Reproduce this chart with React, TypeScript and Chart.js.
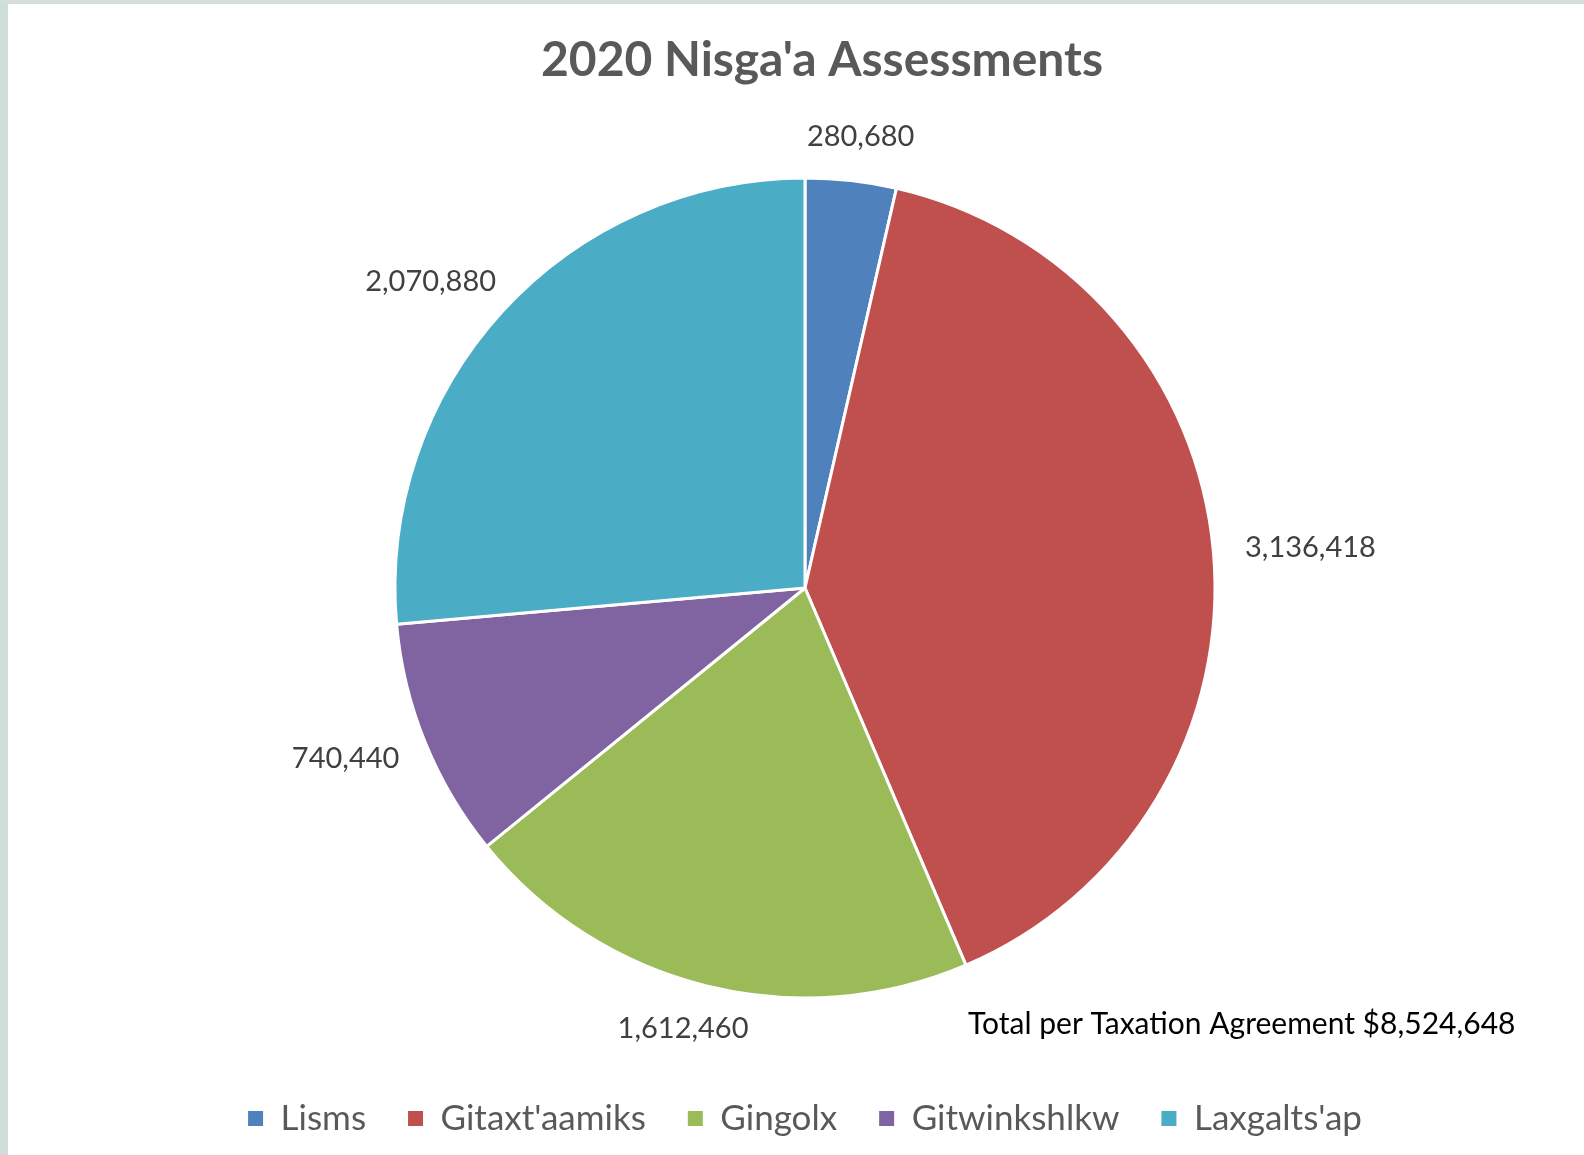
import React, { useEffect, useRef } from "react";
import { Chart, registerables } from "chart.js";

Chart.register(...registerables);

const categories = ["Lisms", "Gitaxt'aamiks", "Gingolx", "Gitwinkshlkw", "Laxgalts'ap"];
const assessments = [280680, 3136418, 1612460, 740440, 2070880];
const sliceColors = ["#4F81BD", "#C0504D", "#9BBB59", "#8064A2", "#4BACC6"];
const chartTitle = "2020 Nisga'a Assessments";
const totalNote = "Total per Taxation Agreement $8,524,648";

const FONT = 'Lato, "Open Sans", sans-serif';

const CANVAS_W = 1576;
const CANVAS_H = 1142;

const overlayPlugin = {
  id: "overlayText",
  afterDatasetsDraw(chart: any) {
    const ctx = chart.ctx;
    const meta = chart.getDatasetMeta(0);
    const values = chart.data.datasets[0].data as number[];
    ctx.save();
    // data labels outside the end of each slice
    ctx.font = `29px ${FONT}`;
    ctx.fillStyle = "#404040";
    ctx.textAlign = "center";
    ctx.textBaseline = "middle";
    const gap = 32;
    meta.data.forEach((arc: any, i: number) => {
      const p = arc.getProps(["x", "y", "startAngle", "endAngle", "outerRadius"], true);
      const mid = (p.startAngle + p.endAngle) / 2;
      const text = values[i].toLocaleString("en-US");
      const hw = ctx.measureText(text).width / 2;
      const hh = 12;
      const cx = p.x + Math.cos(mid) * (p.outerRadius + gap) + hw * Math.cos(mid);
      const cy = p.y + Math.sin(mid) * (p.outerRadius + gap) + hh * Math.sin(mid);
      ctx.fillText(text, cx, cy);
    });
    // title
    ctx.font = `bold 48px ${FONT}`;
    ctx.fillStyle = "#595959";
    ctx.textAlign = "center";
    ctx.fillText(chartTitle, 814, 57);
    // total note
    ctx.font = `30px ${FONT}`;
    ctx.fillStyle = "#000000";
    ctx.textAlign = "left";
    ctx.fillText(totalNote, 960, 1020);
    ctx.restore();
  },
};

function PieChart() {
  const canvasRef = useRef<HTMLCanvasElement | null>(null);
  useEffect(() => {
    document.body.style.margin = "0";
    const canvas = canvasRef.current;
    if (!canvas) return;
    const defaultLabels = (Chart as any).overrides.pie.plugins.legend.labels.generateLabels;
    const chart = new Chart(canvas, {
      type: "pie",
      data: {
        labels: categories,
        datasets: [
          {
            data: assessments,
            backgroundColor: sliceColors,
            borderColor: "#ffffff",
            borderWidth: 3,
            hoverOffset: 0,
            radius: 410,
          } as any,
        ],
      },
      options: {
        animation: false,
        responsive: false,
        maintainAspectRatio: false,
        layout: { padding: { top: 113, left: 18, right: 0, bottom: 0 } },
        plugins: {
          title: { display: false },
          tooltip: { enabled: false },
          legend: {
            display: true,
            position: "bottom",
            labels: {
              boxWidth: 15,
              boxHeight: 15,
              padding: 42,
              color: "#595959",
              font: { family: FONT, size: 35 },
              generateLabels: (c: any) =>
                defaultLabels(c).map((item: any) => ({ ...item, lineWidth: 0, strokeStyle: item.fillStyle })),
            },
          },
        },
      },
      plugins: [overlayPlugin],
    });
    return () => chart.destroy();
  }, []);
  return (
    <canvas
      ref={canvasRef}
      width={CANVAS_W}
      height={CANVAS_H}
      style={{ display: "block", width: CANVAS_W, height: CANVAS_H }}
    />
  );
}

export default function App() {
  return (
    <div
      style={{
        width: 1584,
        height: 1155,
        boxSizing: "border-box",
        borderLeft: "8px solid #cfdedb",
        borderTop: "4px solid #d6dedc",
        overflow: "hidden",
        background: "#ffffff",
      }}
    >
      <PieChart />
    </div>
  );
}
